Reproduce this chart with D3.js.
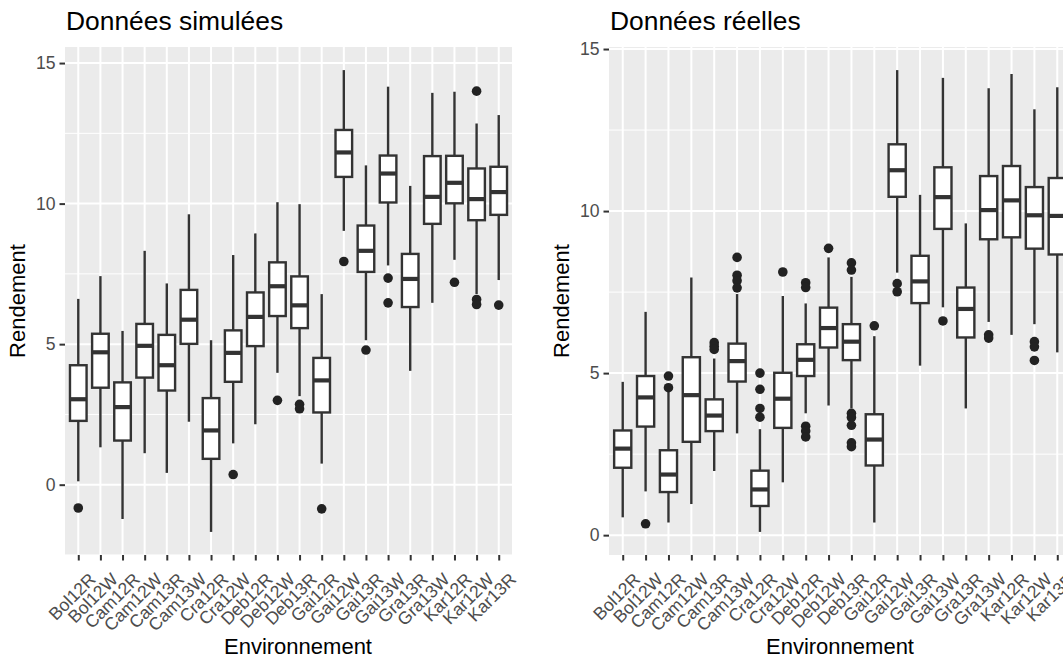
<!DOCTYPE html>
<html>
<head>
<meta charset="utf-8">
<script src="https://cdn.jsdelivr.net/npm/d3@7"></script>
<style>
  body { margin: 0; background: #fff; }
  svg { display: block; font-family: "Liberation Sans", Arial, Helvetica, sans-serif; }
</style>
</head>
<body>
<div id="chart"></div>
<script>
// Categories (same for both panels)
const environments = ["Bol12R", "Bol12W", "Cam12R", "Cam12W", "Cam13R", "Cam13W", "Cra12R", "Cra12W",
  "Deb12R", "Deb12W", "Deb13R", "Gai12R", "Gai12W", "Gai13R", "Gai13W", "Gra13R", "Gra13W",
  "Kar12R", "Kar12W", "Kar13R"];
const yTicks = [0, 5, 10, 15];
const yMinorTicks = [-2.5, 2.5, 7.5, 12.5];

// Simulated data: whisker ends, quartiles, medians, outliers
const simHigh = [6.61, 7.42, 5.47, 8.32, 7.16, 9.62, 5.14, 8.17, 8.94, 10.05, 9.98, 6.78, 14.75, 11.36, 14.16, 10.63, 13.94, 13.98, 12.85, 13.15];
const simQ3 = [4.25, 5.37, 3.64, 5.72, 5.33, 6.93, 3.08, 5.49, 6.84, 7.91, 7.41, 4.51, 12.62, 9.22, 11.71, 8.21, 11.69, 11.70, 11.25, 11.31];
const simMedian = [3.04, 4.71, 2.76, 4.94, 4.25, 5.87, 1.93, 4.69, 5.97, 7.06, 6.38, 3.71, 11.82, 8.32, 11.07, 7.32, 10.24, 10.74, 10.16, 10.41];
const simQ1 = [2.27, 3.45, 1.57, 3.81, 3.35, 5.01, 0.92, 3.66, 4.93, 6.00, 5.57, 2.57, 10.95, 7.57, 10.04, 6.32, 9.28, 10.01, 9.41, 9.60];
const simLow = [0.12, 1.33, -1.22, 1.12, 0.42, 2.24, -1.68, 1.47, 2.15, 3.98, 3.15, 0.75, 9.03, 5.14, 7.80, 4.05, 6.47, 8.00, 6.78, 7.28];
const simOutliers = [[-0.83], [], [], [], [], [], [], [0.36], [], [3.00], [2.86, 2.70], [-0.86],
  [7.94], [4.79], [7.35, 6.47], [], [], [7.20], [14.00, 6.59, 6.41], [6.39]];

// Real data
const realHigh = [4.73, 6.89, 4.42, 7.95, 5.45, 7.44, 3.27, 7.38, 7.15, 8.57, 7.97, 6.14, 14.35, 10.50, 14.11, 9.62, 13.79, 14.23, 13.14, 13.82];
const realQ3 = [3.23, 4.91, 2.62, 5.49, 4.19, 5.91, 1.99, 5.01, 5.89, 7.02, 6.51, 3.73, 12.06, 8.62, 11.35, 7.64, 11.08, 11.39, 10.74, 11.02];
const realMedian = [2.67, 4.25, 1.87, 4.32, 3.69, 5.37, 1.41, 4.21, 5.41, 6.39, 5.97, 2.95, 11.26, 7.83, 10.43, 6.98, 10.03, 10.33, 9.87, 9.85];
const realQ1 = [2.08, 3.35, 1.33, 2.88, 3.21, 4.74, 0.90, 3.31, 4.91, 5.79, 5.40, 2.15, 10.44, 7.16, 9.45, 6.10, 9.13, 9.19, 8.84, 8.66];
const realLow = [0.55, 1.35, 0.39, 0.96, 1.98, 3.14, 0.10, 1.63, 3.76, 4.00, 3.91, 0.39, 8.10, 5.23, 7.03, 3.91, 6.58, 6.18, 6.51, 5.64];
const realOutliers = [[], [0.35], [4.91, 4.55], [], [5.94, 5.83, 5.73], [8.57, 8.02, 7.85, 7.63],
  [5.00, 4.50, 3.91, 3.64], [8.12], [7.79, 7.64, 3.36, 3.21, 3.03], [8.85],
  [8.40, 8.18, 3.76, 3.63, 3.39, 2.85, 2.73], [6.46], [7.76, 7.51], [], [6.61], [],
  [6.18, 6.08], [], [5.97, 5.81, 5.39], []];

const width = 1063, height = 660;
const svg = d3.select("#chart").append("svg")
  .attr("width", width)
  .attr("height", height);
svg.append("rect").attr("width", width).attr("height", height).attr("fill", "#fff");

function drawPanel(opts) {
  const { title, left, right, top, bottom, xTitleX } = opts;
  const rows = environments.map((e, i) => ({
    env: e, low: opts.low[i], q1: opts.q1[i], med: opts.median[i],
    q3: opts.q3[i], high: opts.high[i], out: opts.outliers[i]
  }));

  // y domain: data range expanded by 5% (ggplot default)
  const all = rows.flatMap(d => [d.low, d.high, ...d.out]);
  const [mn, mx] = d3.extent(all);
  const pad = (mx - mn) * 0.05;

  const x = d3.scalePoint().domain(environments).range([left, right]).padding(0.6);
  const y = d3.scaleLinear().domain([mn - pad, mx + pad]).range([bottom, top]);
  const boxW = x.step() * 0.75;

  const g = svg.append("g");

  // panel background
  g.append("rect")
    .attr("x", left).attr("y", top)
    .attr("width", right - left).attr("height", bottom - top)
    .attr("fill", "#EBEBEB");

  // grid
  g.selectAll(".minor").data(yMinorTicks.filter(v => v > y.domain()[0] && v < y.domain()[1]))
    .enter().append("line")
    .attr("x1", left).attr("x2", right)
    .attr("y1", d => y(d)).attr("y2", d => y(d))
    .attr("stroke", "#fff").attr("stroke-width", 1);
  g.selectAll(".majorY").data(yTicks)
    .enter().append("line")
    .attr("x1", left).attr("x2", right)
    .attr("y1", d => y(d)).attr("y2", d => y(d))
    .attr("stroke", "#fff").attr("stroke-width", 2);
  g.selectAll(".majorX").data(environments)
    .enter().append("line")
    .attr("x1", d => x(d)).attr("x2", d => x(d))
    .attr("y1", top).attr("y2", bottom)
    .attr("stroke", "#fff").attr("stroke-width", 2);

  // boxes
  const box = g.selectAll(".box").data(rows).enter().append("g");
  box.append("line")
    .attr("x1", d => x(d.env)).attr("x2", d => x(d.env))
    .attr("y1", d => y(d.high)).attr("y2", d => y(d.q3))
    .attr("stroke", "#333").attr("stroke-width", 2.4);
  box.append("line")
    .attr("x1", d => x(d.env)).attr("x2", d => x(d.env))
    .attr("y1", d => y(d.q1)).attr("y2", d => y(d.low))
    .attr("stroke", "#333").attr("stroke-width", 2.4);
  box.append("rect")
    .attr("x", d => x(d.env) - boxW / 2)
    .attr("width", boxW)
    .attr("y", d => y(d.q3))
    .attr("height", d => y(d.q1) - y(d.q3))
    .attr("fill", "#fff").attr("stroke", "#333").attr("stroke-width", 2.4);
  box.append("line")
    .attr("x1", d => x(d.env) - boxW / 2).attr("x2", d => x(d.env) + boxW / 2)
    .attr("y1", d => y(d.med)).attr("y2", d => y(d.med))
    .attr("stroke", "#333").attr("stroke-width", 4.2);
  box.selectAll("circle").data(d => d.out.map(v => ({ env: d.env, v })))
    .enter().append("circle")
    .attr("cx", d => x(d.env)).attr("cy", d => y(d.v))
    .attr("r", 4.8).attr("fill", "#222");

  // y axis
  const yAxis = svg.append("g")
    .attr("transform", `translate(${left},0)`)
    .call(d3.axisLeft(y).tickValues(yTicks).tickSize(5.5).tickPadding(4).tickFormat(d3.format("d")));
  yAxis.select(".domain").remove();
  yAxis.selectAll("line").attr("stroke", "#333").attr("stroke-width", 2);
  yAxis.selectAll("text").attr("fill", "#4D4D4D").style("font-size", "17.6px");

  // x axis, labels rotated 45 degrees
  const xAxis = svg.append("g")
    .attr("transform", `translate(0,${bottom})`)
    .call(d3.axisBottom(x).tickSize(5.5).tickPadding(0));
  xAxis.select(".domain").remove();
  xAxis.selectAll("line").attr("stroke", "#333").attr("stroke-width", 2);
  xAxis.selectAll("text")
    .attr("fill", "#4D4D4D")
    .style("font-size", "17.6px")
    .attr("text-anchor", "end")
    .attr("y", 0).attr("dy", "0.72em")
    .attr("transform", "translate(9,16.5) rotate(-45)");

  // titles
  svg.append("text")
    .attr("x", left + 1).attr("y", 29.5)
    .style("font-size", "26.4px").attr("fill", "#000")
    .text(title);
  svg.append("text")
    .attr("x", xTitleX).attr("y", 654)
    .attr("text-anchor", "middle")
    .style("font-size", "22px").attr("fill", "#000")
    .text("Environnement");
  svg.append("text")
    .attr("transform", `translate(${left - 40},${(top + bottom) / 2}) rotate(-90)`)
    .attr("text-anchor", "middle")
    .style("font-size", "22px").attr("fill", "#000")
    .text("Rendement");
}

drawPanel({
  title: "Données simulées", left: 65, right: 512, top: 47, bottom: 555, xTitleX: 298,
  low: simLow, q1: simQ1, median: simMedian, q3: simQ3, high: simHigh, outliers: simOutliers
});
drawPanel({
  title: "Données réelles", left: 609, right: 1071, top: 47, bottom: 555, xTitleX: 840,
  low: realLow, q1: realQ1, median: realMedian, q3: realQ3, high: realHigh, outliers: realOutliers
});
</script>
</body>
</html>
